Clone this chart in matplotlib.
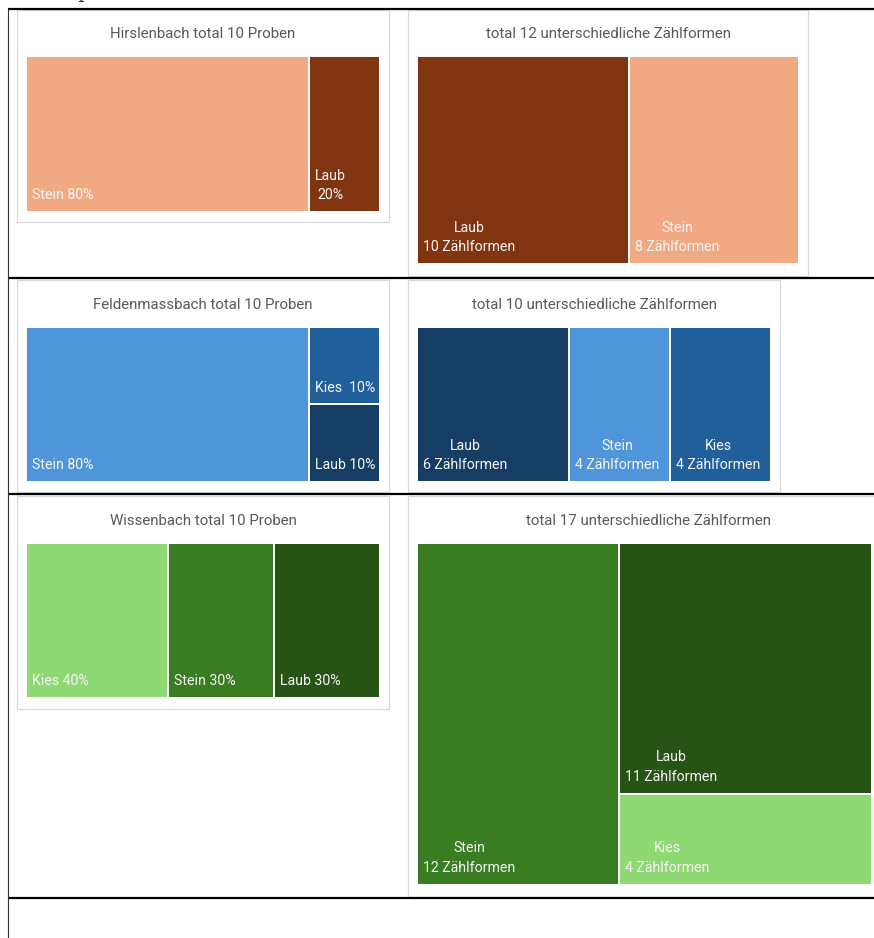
import matplotlib.pyplot as plt
from matplotlib.patches import Rectangle

plt.rcParams["font.family"] = ["Roboto", "DejaVu Sans"]

# --- data -------------------------------------------------------------
hirs_names = ["Stein", "Laub"]
hirs_pct = [80, 20]
hirs_labels = ["Stein 80%", "Laub\n20%"]
hirs_forms_names = ["Laub", "Stein"]
hirs_forms = [10, 8]

feld_names = ["Stein", "Kies", "Laub"]
feld_pct = [80, 10, 10]
feld_labels = ["Stein 80%", "Kies  10%", "Laub 10%"]
feld_forms_names = ["Laub", "Stein", "Kies"]
feld_forms = [6, 4, 4]

wiss_names = ["Kies", "Stein", "Laub"]
wiss_pct = [40, 30, 30]
wiss_labels = ["Kies 40%", "Stein 30%", "Laub 30%"]
wiss_forms_names = ["Stein", "Laub", "Kies"]
wiss_forms = [12, 11, 4]

titles = ["Hirslenbach total 10 Proben", "total 12 unterschiedliche Zählformen",
          "Feldenmassbach total 10 Proben", "total 10 unterschiedliche Zählformen",
          "Wissenbach total 10 Proben", "total 17 unterschiedliche Zählformen"]

brown = {"Stein": "#F1A983", "Laub": "#80340F"}
blue = {"Stein": "#4E95D9", "Kies": "#215F9A", "Laub": "#163E64"}
green = {"Kies": "#8ED973", "Stein": "#3A7C22", "Laub": "#275317"}


def worst(row, side):
    s = sum(row)
    return max(max(side * side * r / (s * s), s * s / (side * side * r)) for r in row)


def squarify(values, x, y, w, h):
    # squarified treemap, y grows downward
    total = float(sum(values))
    areas = [v * w * h / total for v in values]
    rects = []
    i = 0
    while i < len(areas):
        side = min(w, h)
        row = [areas[i]]
        j = i + 1
        while j < len(areas) and worst(row + [areas[j]], side) <= worst(row, side):
            row.append(areas[j])
            j += 1
        s = sum(row)
        if w >= h:
            cw = s / h
            yy = y
            for a in row:
                rects.append((x, yy, cw, a / cw))
                yy += a / cw
            x += cw
            w -= cw
        else:
            rh = s / w
            xx = x
            for a in row:
                rects.append((xx, y, a / rh, rh))
                xx += a / rh
            y += rh
            h -= rh
        i = j
    return rects


fig = plt.figure(figsize=(8.74, 9.38), dpi=100)
ax = fig.add_axes([0, 0, 1, 1])
ax.set_xlim(0, 874)
ax.set_ylim(938, 0)
ax.axis("off")

# document table lines
for yl in [9, 278, 494, 898]:
    ax.plot([8, 874], [yl, yl], color="black", lw=1.6, solid_capstyle="butt")
ax.plot([8, 8], [9, 938], color="#333333", lw=0.8)
# cut-off heading glyph at the very top
ax.text(77, -2, "p", color="#0F4761", fontsize=15, family="DejaVu Serif", va="baseline")


def chart(frame, plot, title, values, names, labels, colors, title_y):
    fx, fy, fw, fh = frame
    ax.add_patch(Rectangle((fx, fy), fw, fh, facecolor="white", edgecolor="#D9D9D9", lw=0.9))
    ax.text(fx + fw / 2, title_y, title, ha="center", va="center", color="#595959", fontsize=10.8)
    px, py, pw, ph = plot
    for (rx, ry, rw, rh), name, lab in zip(squarify(values, px, py, pw, ph), names, labels):
        ax.add_patch(Rectangle((rx + 1, ry + 1), rw - 2, rh - 2, facecolor=colors[name], edgecolor="none"))
        ax.text(rx + 6, ry + rh - 10, lab, ha="left", va="bottom", multialignment="center",
                color="#F5F5F5", fontsize=10.2, linespacing=1.5)


chart((17, 10, 372, 212), (26, 56, 354, 156), titles[0], hirs_pct, hirs_names, hirs_labels, brown, 34)
chart((408, 10, 400, 266), (417, 56, 382, 208), titles[1], hirs_forms, hirs_forms_names,
      [f"{n}\n{v} Zählformen" for n, v in zip(hirs_forms_names, hirs_forms)], brown, 34)

chart((17, 280, 372, 212), (26, 327, 354, 155), titles[2], feld_pct, feld_names, feld_labels, blue, 305)
chart((408, 280, 372, 212), (417, 327, 354, 155), titles[3], feld_forms, feld_forms_names,
      [f"{n}\n{v} Zählformen" for n, v in zip(feld_forms_names, feld_forms)], blue, 305)

chart((17, 496, 372, 213), (26, 543, 354, 155), titles[4], wiss_pct, wiss_names, wiss_labels, green, 521)
chart((408, 496, 480, 401), (417, 543, 455, 342), titles[5], wiss_forms, wiss_forms_names,
      [f"{n}\n{v} Zählformen" for n, v in zip(wiss_forms_names, wiss_forms)], green, 521)

fig.savefig("out.png", dpi=100)
